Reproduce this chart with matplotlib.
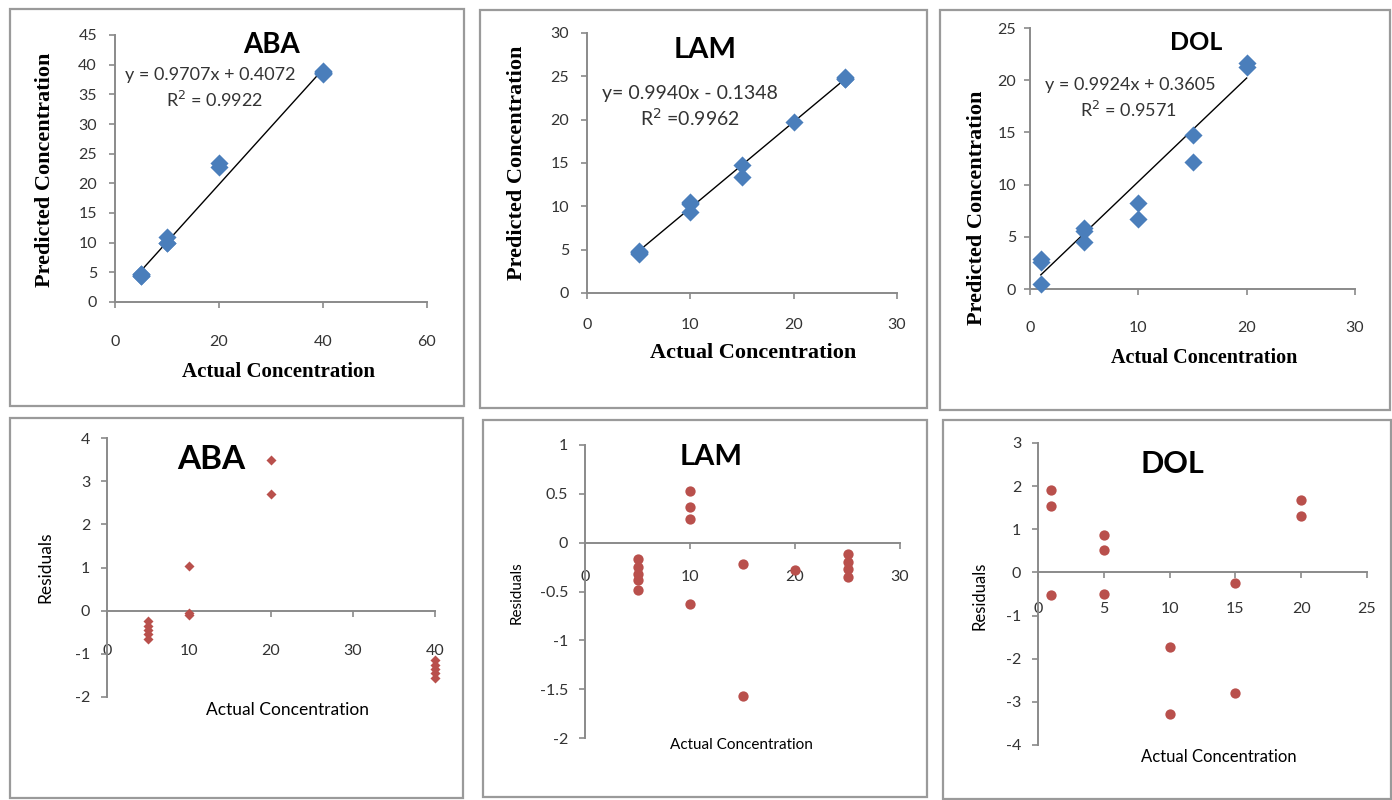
import numpy as np
import matplotlib.pyplot as plt
from matplotlib.patches import Rectangle

# Actual vs predicted concentrations
aba_actual = [5, 5, 5, 5, 5, 10, 10, 10, 20, 20, 40, 40, 40, 40, 40]
aba_pred = [4.75, 4.65, 4.55, 4.45, 4.35, 11.0, 9.95, 9.9, 23.5, 22.7, 38.85, 38.75, 38.65, 38.55, 38.45]
lam_actual = [5, 5, 5, 5, 5, 10, 10, 10, 10, 15, 15, 20, 25, 25, 25, 25]
lam_pred = [4.83, 4.75, 4.68, 4.62, 4.52, 10.53, 10.37, 10.24, 9.37, 14.78, 13.43, 19.72, 24.88, 24.8, 24.73, 24.65]
dol_actual = [1, 1, 1, 5, 5, 5, 10, 10, 15, 15, 20, 20]
dol_pred = [2.91, 2.55, 0.48, 5.86, 5.52, 4.49, 8.28, 6.72, 14.75, 12.21, 21.68, 21.31]

# Residuals
aba_res_x = [5, 5, 5, 5, 5, 10, 10, 10, 20, 20, 40, 40, 40, 40, 40]
aba_res = [-0.25, -0.35, -0.45, -0.55, -0.65, 1.03, -0.05, -0.1, 3.49, 2.7, -1.15, -1.25, -1.35, -1.45, -1.55]
lam_res_x = [5, 5, 5, 5, 5, 10, 10, 10, 10, 15, 15, 20, 25, 25, 25, 25]
lam_res = [-0.17, -0.25, -0.32, -0.38, -0.48, 0.53, 0.37, 0.24, -0.63, -0.22, -1.57, -0.28, -0.12, -0.2, -0.27, -0.35]
dol_res_x = [1, 1, 1, 5, 5, 5, 10, 10, 15, 15, 20, 20]
dol_res = [1.91, 1.55, -0.52, 0.86, 0.52, -0.51, -1.72, -3.28, -0.25, -2.79, 1.68, 1.31]

# Trendline equations
fits = {'ABA': (0.9707, 0.4072), 'LAM': (0.9940, -0.1348), 'DOL': (0.9924, 0.3605)}
eq_text = {'ABA': ('y = 0.9707x + 0.4072', 'R$^2$ = 0.9922'),
           'LAM': ('y= 0.9940x - 0.1348', 'R$^2$ =0.9962'),
           'DOL': ('y = 0.9924x + 0.3605', 'R$^2$ = 0.9571')}

W, H = 1392, 800
BLUE = '#4a7ebb'
RED = '#b9504c'
AXC = '#8a8a8a'
TXT = '#333333'
SANS = ['Lato', 'DejaVu Sans']
SERIF = ['Liberation Serif', 'DejaVu Serif']

fig = plt.figure(figsize=(W / 100, H / 100), dpi=100)
fig.patch.set_facecolor('white')


def rect(x0, y0, x1, y1):
    return [x0 / W, 1 - y1 / H, (x1 - x0) / W, (y1 - y0) / H]


def ftext(x, y, s, **kw):
    fig.text(x / W, 1 - y / H, s, ha='center', va='center', **kw)


def frame(x0, y0, x1, y1):
    fig.patches.append(Rectangle((x0 / W, 1 - y1 / H), (x1 - x0) / W, (y1 - y0) / H,
                                 transform=fig.transFigure, fill=False, ec='#9a9a9a', lw=1.6))


def style(ax, xpad, ypad):
    for s in ['top', 'right']:
        ax.spines[s].set_visible(False)
    for s in ['left', 'bottom']:
        ax.spines[s].set_color(AXC)
        ax.spines[s].set_linewidth(1.4)
    ax.tick_params(color=AXC, width=1.2, length=4, labelsize=11.5, labelcolor=TXT)
    ax.tick_params(axis='x', pad=xpad)
    ax.tick_params(axis='y', pad=ypad)
    for lab in ax.get_xticklabels() + ax.get_yticklabels():
        lab.set_family(SANS)


# ---------------- top row: predicted vs actual ----------------
top = [
    ('ABA', aba_actual, aba_pred, (115, 35, 427, 302), (0, 60, 20), (0, 45, 5), 20, 9,
     (272, 45), 20, (210, 75), (215, 100), 13, (278, 372), (45, 170), 15),
    ('LAM', lam_actual, lam_pred, (587, 33, 897, 293), (0, 30, 10), (0, 30, 5), 14, 9,
     (705, 50), 21, (690, 93), (690, 118), 14, (753, 353), (517, 163), 16),
    ('DOL', dol_actual, dol_pred, (1030, 28, 1355, 289), (0, 30, 10), (0, 25, 5), 19, 6,
     (1196, 43), 18, (1130, 85), (1128, 110), 13, (1204, 358), (977, 208), 14.5),
]
for name, xa, yp, pos, xr, yr, xpad, ypad, tpos, tfs, e1, e2, efs, xl, yl, lfs in top:
    ax = fig.add_axes(rect(*pos))
    ax.scatter(xa, yp, marker='D', s=85, color=BLUE, zorder=3, clip_on=False, linewidths=0)
    m, b = fits[name]
    xx = np.array([min(xa), max(xa)])
    ax.plot(xx, m * xx + b, color='black', lw=1.0, zorder=2)
    ax.set_xlim(xr[0], xr[1])
    ax.set_ylim(yr[0], yr[1])
    ax.set_xticks(np.arange(xr[0], xr[1] + 1, xr[2]))
    ax.set_yticks(np.arange(yr[0], yr[1] + 1, yr[2]))
    style(ax, xpad, ypad)
    ftext(*tpos, name, family=SANS, fontsize=tfs, fontweight='bold', color='black')
    ftext(*e1, eq_text[name][0], family=SANS, fontsize=efs, color=TXT)
    ftext(*e2, eq_text[name][1], family=SANS, fontsize=efs, color=TXT)
    ftext(*xl, 'Actual Concentration', family=SERIF, fontsize=lfs, fontweight='bold')
    ftext(*yl, 'Predicted Concentration', family=SERIF, fontsize=16, fontweight='bold',
          rotation=90)

# ---------------- bottom row: residuals ----------------
bottom = [
    ('ABA', aba_res_x, aba_res, 'D', 26, (107, 438, 435, 697), [0, 10, 20, 30, 40],
     [4, 3, 2, 1, 0, -1, -2], ['4', '3', '2', '1', '0', '-1', '-2'], 20, 8,
     (211, 460), 24, (288, 710), 12.5, (45, 567)),
    ('LAM', lam_res_x, lam_res, 'o', 55, (585, 445, 900, 738), [0, 10, 20, 30],
     [1, 0.5, 0, -0.5, -1, -1.5, -2], ['1', '0.5', '0', '-0.5', '-1', '-1.5', '-2'], 16, 8,
     (711, 457), 21, (741, 745), 11, (517, 593)),
    ('DOL', dol_res_x, dol_res, 'o', 55, (1038, 443, 1367, 745), [0, 5, 10, 15, 20, 25],
     [3, 2, 1, 0, -1, -2, -3, -4], ['3', '2', '1', '0', '-1', '-2', '-3', '-4'], 17, 8,
     (1172, 464), 22, (1219, 757), 12, (980, 596)),
]
for name, rx, ry, mk, ms, pos, xt, yt, ytl, xpad, ypad, tpos, tfs, xl, lfs, yl in bottom:
    ax = fig.add_axes(rect(*pos))
    ax.scatter(rx, ry, marker=mk, s=ms, color=RED, zorder=3, clip_on=False, linewidths=0)
    ax.set_xlim(xt[0], xt[-1])
    ax.set_ylim(yt[-1], yt[0])
    ax.set_xticks(xt)
    ax.set_yticks(yt)
    ax.set_yticklabels(ytl)
    ax.spines['bottom'].set_position(('data', 0))
    style(ax, xpad, ypad)
    ftext(*tpos, name, family=SANS, fontsize=tfs, fontweight='bold', color='black')
    ftext(*xl, 'Actual Concentration', family=SANS, fontsize=lfs, color='black')
    ftext(*yl, 'Residuals', family=SANS, fontsize=lfs, color='black', rotation=90)

# panel frames
frame(10, 9, 464, 406)
frame(480, 10, 927, 408)
frame(940, 10, 1390, 410)
frame(10, 418, 463, 798)
frame(483, 420, 927, 797)
frame(943, 420, 1391, 799)

fig.savefig('out.png', dpi=100, facecolor='white')
